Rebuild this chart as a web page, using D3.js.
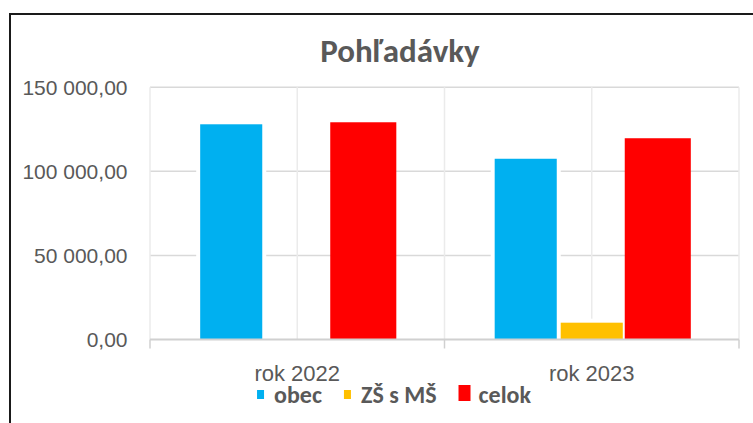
<!DOCTYPE html>
<html>
<head>
<meta charset="utf-8">
<script src="https://cdn.jsdelivr.net/npm/d3@7"></script>
<style>
  body { margin: 0; background: #fff; }
  svg { display: block; font-family: Carlito, Calibri, Lato, sans-serif; }
</style>
</head>
<body>
<svg id="chart"></svg>
<script>
const width = 753;
const height = 423;

// data
const categories = ['rok 2022', 'rok 2023'];
const series = ['obec', 'ZŠ s MŠ', 'celok'];
const obec = [128000, 107500];
const zsMs = [null, 10000];
const celok = [129200, 119700];
const yTicks = [0, 50000, 100000, 150000];

const colors = ['#00b0f0', '#ffc000', '#ff0000'];
const textColor = '#595959';

const values = [obec, zsMs, celok];

// svg element
const svg = d3.select('#chart')
    .attr('width', width)
    .attr('height', height);

// chart frame (runs off the right and bottom of the picture)
svg.append('rect')
    .attr('x', 10)
    .attr('y', 14)
    .attr('width', 800)
    .attr('height', 450)
    .attr('fill', '#fff')
    .attr('stroke', '#1a1a1a')
    .attr('stroke-width', 2);

// title
svg.append('text')
    .attr('text-anchor', 'middle')
    .attr('fill', textColor)
    .attr('x', 400)
    .attr('y', 62)
    .attr('font-size', 33)
    .attr('font-weight', 'bold')
    .text('Pohľadávky');

// scales
const plot = {left: 150, right: 739, top: 87.3, bottom: 339.5};

const x0 = d3.scaleBand()
    .domain(categories)
    .range([plot.left, plot.right])
    .paddingInner(0)
    .paddingOuter(0);

const x1 = d3.scaleBand()
    .domain(series)
    .range([0, x0.bandwidth()])
    .paddingInner(0.06)
    .paddingOuter(0.76);

const y = d3.scaleLinear()
    .domain([0, 150000])
    .range([plot.bottom, plot.top]);

// gridlines
const grid = svg.append('g');

grid.selectAll('.hgrid')
    .data(yTicks.filter(d => d > 0))
    .enter()
    .append('line')
    .attr('x1', plot.left)
    .attr('x2', plot.right)
    .attr('y1', d => y(d))
    .attr('y2', d => y(d))
    .attr('stroke', '#d9d9d9')
    .attr('stroke-width', 1.5);

// vertical lines on every half category
const vLines = [];
categories.forEach(c => {
    vLines.push(x0(c), x0(c) + x0.bandwidth() / 2);
});
vLines.push(plot.right);

grid.selectAll('.vgrid')
    .data(vLines)
    .enter()
    .append('line')
    .attr('x1', d => d)
    .attr('x2', d => d)
    .attr('y1', plot.top)
    .attr('y2', plot.bottom)
    .attr('stroke', '#ebebeb')
    .attr('stroke-width', 1.5);

// bars
const barData = [];
categories.forEach((c, i) => {
    series.forEach((s, j) => {
        if (values[j][i] != null) barData.push({cat: c, key: s, idx: j, value: values[j][i]});
    });
});

// white halo round the bars without a border
svg.append('g')
    .selectAll('rect')
    .data(barData.filter(d => d.idx !== 2))
    .enter()
    .append('rect')
    .attr('x', d => x0(d.cat) + x1(d.key))
    .attr('y', d => y(d.value))
    .attr('width', x1.bandwidth())
    .attr('height', d => y(0) - y(d.value))
    .attr('fill', '#fff')
    .attr('stroke', '#fff')
    .attr('stroke-width', 8);

// celok bars carry a 2px red border, kept inside the value
const inset = d => d.idx === 2 ? 2 : 0;
svg.append('g')
    .selectAll('rect')
    .data(barData)
    .enter()
    .append('rect')
    .attr('x', d => x0(d.cat) + x1(d.key))
    .attr('y', d => y(d.value) + inset(d))
    .attr('width', x1.bandwidth())
    .attr('height', d => y(0) - y(d.value) - 2 * inset(d))
    .attr('fill', d => colors[d.idx])
    .attr('stroke', d => d.idx === 2 ? colors[2] : 'none')
    .attr('stroke-width', 4);

// x axis line and ticks
svg.append('line')
    .attr('x1', plot.left)
    .attr('x2', plot.right)
    .attr('y1', plot.bottom)
    .attr('y2', plot.bottom)
    .attr('stroke', '#d0d0d0')
    .attr('stroke-width', 2);

const bounds = categories.map(c => x0(c)).concat([plot.right]);
svg.selectAll('.xtick')
    .data(bounds)
    .enter()
    .append('line')
    .attr('x1', d => d)
    .attr('x2', d => d)
    .attr('y1', plot.bottom)
    .attr('y2', plot.bottom + 9)
    .attr('stroke', '#d0d0d0')
    .attr('stroke-width', 1.5);

// x labels
const xAxis = d3.axisBottom(x0).tickSize(0).tickPadding(0);
const xg = svg.append('g')
    .attr('transform', `translate(0,${plot.bottom})`)
    .call(xAxis);
xg.select('.domain').remove();
xg.selectAll('text')
    .attr('fill', textColor)
    .attr('font-size', 22)
    .attr('font-family', null)
    .attr('dy', null)
    .attr('y', 41.5);

// y axis labels
const locale = d3.formatLocale({decimal: ',', thousands: ' ', grouping: [3], currency: ['', '']});
const fmt = locale.format(',.2f');

const yAxis = d3.axisLeft(y)
    .tickValues(yTicks)
    .tickFormat(fmt)
    .tickSize(0)
    .tickPadding(22.5);
const yg = svg.append('g')
    .attr('transform', `translate(${plot.left},0)`)
    .call(yAxis);
yg.select('.domain').remove();
yg.selectAll('text')
    .attr('fill', textColor)
    .attr('font-size', 21)
    .attr('font-family', null)
    .attr('dy', '0.33em');

// legend
const legend = svg.append('g');
let lx = 0;
series.forEach((s, i) => {
    const border = i === 2;
    const item = legend.append('g').attr('transform', `translate(${lx},0)`);
    item.append('rect')
        .attr('x', border ? 2 : 0)
        .attr('y', border ? -16 : -13)
        .attr('width', border ? 8 : 7)
        .attr('height', border ? 12 : 9)
        .attr('fill', colors[i])
        .attr('stroke', border ? colors[i] : 'none')
        .attr('stroke-width', 4);
    const tx = border ? 20 : 17;
    const t = item.append('text')
        .attr('x', tx)
        .attr('y', 0)
        .attr('fill', textColor)
        .attr('font-size', 24)
        .attr('font-weight', 'bold')
        .text(s);
    lx += tx + t.node().getComputedTextLength() + 22;
});
const lw = lx - 22;
legend.attr('transform', `translate(${394 - lw / 2},403)`);
</script>
</body>
</html>
